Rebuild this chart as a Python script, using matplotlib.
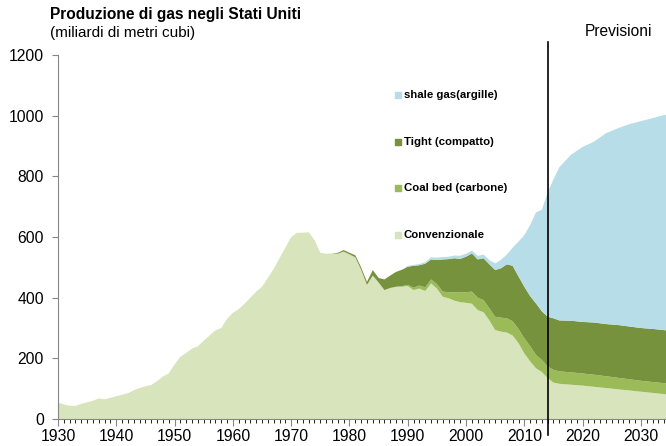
import numpy as np
import matplotlib
matplotlib.use("Agg")
from matplotlib import pyplot as plt
from matplotlib.ticker import MultipleLocator

plt.rcParams['font.family'] = ['Liberation Sans', 'DejaVu Sans']

# anni: annuali fino al 2016, poi ogni 2 anni (previsioni)
anni = list(range(1930, 2017)) + list(range(2018, 2037, 2))

# gas convenzionale (miliardi di m3)
convenzionale = [
    54, 48, 44, 43, 50, 55, 60, 68, 65, 70,
    75, 80, 85, 95, 102, 108, 112, 125, 140, 150,
    180, 205, 218, 232, 240, 258, 275, 292, 300, 330,
    350, 362, 380, 400, 420, 436, 465, 495, 530, 565,
    600, 614, 614, 616, 590, 548, 545, 546, 545, 552,
    543, 533, 492, 442, 473, 450, 425, 432, 436, 436,
    438, 425, 430, 422, 447, 430, 403, 398, 390, 385,
    383, 380, 359, 352, 325, 293, 288, 285, 275, 250,
    216, 190, 167, 155, 135, 120, 116,
    113, 110, 106, 102, 98, 94, 90, 86, 82, 78,
]

# coal bed, dal 1988
inizio_coal = 1988
coal_bed = [
    0, 2, 4, 8, 10, 12, 13, 15, 17, 20,
    28, 32, 35, 40, 41, 40, 40, 44, 46, 47,
    47, 47, 50, 50, 44, 40, 38, 42, 41,
    41, 40, 40, 39, 38, 37, 36, 36, 36, 35,
]

# tight gas, dal 1978
inizio_tight = 1978
tight = [
    3, 5, 5, 7, 8, 10, 18, 15, 35, 41,
    49, 54, 60, 72, 67, 78, 66, 79, 106, 109,
    112, 111, 117, 126, 126, 138, 145, 154, 163, 178,
    183, 173, 170, 165, 170, 160, 164, 170, 168,
    170, 170, 172, 172, 174, 174, 174, 175, 175, 177,
]

# shale gas, dal 1990
inizio_shale = 1990
shale = [
    3, 3, 4, 5, 7, 8, 8, 8, 9, 10,
    10, 9, 12, 12, 14, 22, 28, 32, 60, 115,
    170, 235, 300, 335, 410, 458, 505,
    547, 577, 597, 629, 648, 667, 682, 695, 709, 720,
]

etichette = ['shale gas(argille)', 'Tight (compatto)', 'Coal bed (carbone)', 'Convenzionale']
colori = ['#b7dde8', '#76923c', '#9bbb59', '#d8e4bc']
anno_previsioni = 2014


def serie_completa(valori, inizio):
    # zeri prima dell'anno in cui la serie comincia
    pad = anni.index(inizio)
    return np.array([0] * pad + valori, dtype=float)


x = np.array(anni)
conv = np.array(convenzionale, dtype=float)
coal = serie_completa(coal_bed, inizio_coal)
tig = serie_completa(tight, inizio_tight)
sha = serie_completa(shale, inizio_shale)

fig = plt.figure(figsize=(6.66, 4.46), dpi=100)
ax = fig.add_axes([58 / 666, 27 / 446, 608 / 666, 364 / 446])

ax.stackplot(x, conv, coal, tig, sha,
             colors=[colori[3], colori[2], colori[1], colori[0]], lw=0)

ax.set_xlim(1930, 2034.3)
ax.set_ylim(0, 1200)
ax.yaxis.set_major_locator(MultipleLocator(200))
ax.xaxis.set_major_locator(MultipleLocator(10))
ax.xaxis.set_minor_locator(MultipleLocator(1))

for s in ['top', 'right']:
    ax.spines[s].set_visible(False)
for s in ['left', 'bottom']:
    ax.spines[s].set_color('#868686')
    ax.spines[s].set_linewidth(0.8)
ax.tick_params(axis='both', labelsize=11.3, colors='#868686', labelcolor='black')
ax.tick_params(axis='x', which='major', length=5, pad=2)
ax.tick_params(axis='x', which='minor', length=3)
ax.tick_params(axis='y', length=4, pad=6)

# linea verticale: inizio previsioni
ax.plot([anno_previsioni, anno_previsioni], [-53, 1243], color='black', lw=1.2,
        clip_on=False, zorder=5)

# legenda in linea
leg_y = [1068, 913, 762, 607]
for lab, col, yy in zip(etichette, colori, leg_y):
    ax.scatter([1988.3], [yy], marker='s', s=24, color=col, zorder=6)
    ax.text(1989.3, yy, lab, fontsize=8.2, fontweight='bold', va='center', ha='left')

fig.text(50 / 666, 1 - 15 / 446, 'Produzione di gas negli Stati Uniti',
         fontsize=11.2, fontweight='bold', va='center', ha='left')
fig.text(50 / 666, 1 - 33 / 446, '(miliardi di metri cubi)',
         fontsize=11, va='center', ha='left')
fig.text(585 / 666, 1 - 32 / 446, 'Previsioni', fontsize=11.2, va='center', ha='left')

fig.savefig('out.png', dpi=100)
